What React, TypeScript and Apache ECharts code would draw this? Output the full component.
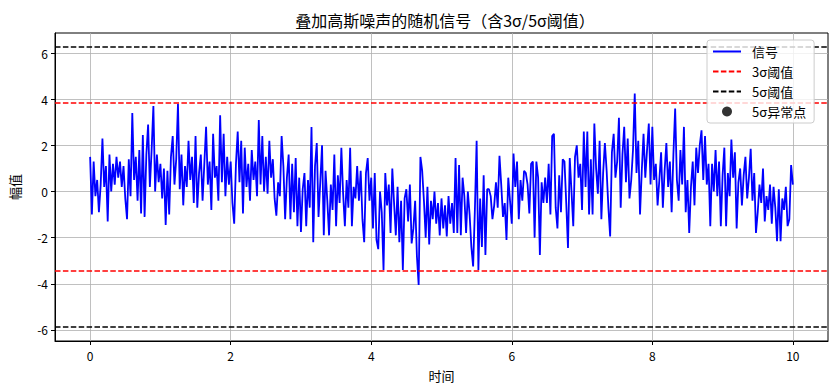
import React, { useEffect, useRef } from "react";
import * as echarts from "echarts";

const title = "叠加高斯噪声的随机信号（含3σ/5σ阈值）";
const xName = "时间";
const yName = "幅值";
const legendNames = ["信号", "3σ阈值", "5σ阈值", "5σ异常点"];

const timeStep = 0.025;
// signal values, one every 0.025 time units from 0 to 10
const signal = [
  1.5, -1.0, 1.3, -0.2, 0.5, -0.9, 0.3, 2.3, 0.2, 1.1, -1.3, 1.6, 0.0, 1.2, 0.3, 1.5, 0.6, 1.3, 0.2, 1.1,
  -0.3, -1.2, 1.4, -0.2, 3.4, 0.5, 1.5, -0.4, 1.8, -0.95, 2.45, -1.1, 1.6, 2.9, 0.2, 1.8, 3.7, 0.0, 1.6, 0.4,
  1.2, -0.3, 1.0, -1.45, 0.9, -1.0, 1.5, 2.4, 0.3, 1.4, 3.8, 0.1, 1.6, -0.6, 1.1, 0.2, 2.2, 0.5, 1.5, -0.5,
  2.4, -0.7, 0.8, 1.6, -0.4, 1.2, 2.8, 0.3, 1.3, -0.8, 2.5, 0.6, 1.1, -0.4, 3.3, 0.4, 2.5, -0.2, 1.5, 0.3,
  1.3, -0.5, -1.4, 1.2, 2.6, 0.4, 2.2, -0.95, 1.9, 0.2, 1.2, -0.4, 1.8, 0.5, 1.3, -0.2, 3.1, 0.3, 2.4, 0.0,
  1.5, -0.1, 2.2, 0.6, 1.4, -0.3, -1.05, 0.4, -0.2, 2.4, 1.1, -1.2, 0.6, 1.6, -1.2, 1.2, -0.9, 1.45, -1.5, 0.6,
  -1.75, 0.1, 0.8, -1.5, 0.5, -0.7, 2.8, -2.2, 1.1, 2.1, -1.1, 0.4, 2.0, -1.9, 0.9, -0.4, -1.9, 0.3, -0.8, 1.6,
  -1.5, 0.7, -0.5, 1.9, -0.1, -1.5, 0.5, -0.7, 1.9, -1.5, 0.2, -0.3, 1.1, -0.4, 0.9, -1.2, -2.2, 0.8, 1.45, -0.4,
  0.6, -1.6, 0.8, -2.1, -2.5, 0.0, -0.9, -3.4, 0.8, -0.6, 0.3, -1.8, 1.0, -0.5, -1.9, 0.2, -2.2, -0.4, -3.4, -0.3,
  0.1, -1.3, 0.3, -2.25, -1.6, -0.4, -2.8, -4.05, 1.5, 0.9, -0.4, -2.0, 0.2, -2.3, -0.4, -1.2, 0.0, -1.4, -0.5, -1.9,
  -0.3, -1.6, -0.6, -1.95, -0.2, -1.4, -0.5, -1.8, 1.45, -1.8, 1.15, -1.9, 0.6, -0.2, -1.8, 0.0, -1.0, -2.4, -3.25, -0.8,
  2.2, -3.4, -0.3, -2.4, 0.7, -2.75, 0.1, 0.1, -0.2, -1.2, -0.6, 0.4, -0.7, 1.55, 0.3, -1.1, -0.5, -2.1, 0.6, -0.4,
  -1.4, 1.65, 0.2, 1.3, -1.2, 0.5, -0.4, 0.9, 0.8, 0.3, -0.95, 1.2, 1.3, -2.0, 1.3, 0.6, -2.75, 0.4, -0.5, 0.6,
  -0.5, 1.2, -1.0, 2.4, 2.5, -0.7, -1.6, 0.7, -0.9, 1.4, 1.3, -0.5, -2.45, 1.45, 0.0, -1.5, 1.5, 2.0, 0.6, 1.2,
  -0.8, 2.6, 0.2, 2.6, -1.0, 1.4, -1.0, 2.95, 1.0, -0.1, 2.2, -1.2, 0.8, 2.1, 0.9, -0.7, -1.95, 1.7, 2.5, 0.6,
  1.3, 3.2, -0.7, 1.6, 2.8, 0.4, 2.3, -0.3, 0.5, 1.8, 4.25, 0.8, 2.2, -1.0, 0.9, 2.5, 0.6, 1.8, 2.95, 0.3,
  2.8, 0.5, 1.2, -0.6, 0.5, 1.7, -0.7, 0.9, 2.1, 0.2, 1.3, -0.9, 1.6, 3.6, 0.5, -0.4, 1.8, 0.3, 2.8, -0.9,
  0.5, -1.8, 0.2, 1.3, -0.6, 1.9, 0.8, 2.0, 2.65, 0.5, 2.4, 0.3, 1.2, -1.5, 1.2, 0.0, 1.8, -0.2, 1.3, -1.5,
  0.7, 1.9, -1.5, 0.8, -0.2, 2.25, 0.6, 1.7, -1.6, 0.4, 1.0, -0.6, 0.7, 1.5, -0.3, 0.6, 1.85, -0.4, 0.8, -1.8,
  -0.9, 0.3, -0.5, 1.0, -1.3, -0.2, -0.8, 0.3, -1.4, 0.2, -0.7, -2.15, 0.1, -2.15, -0.3, -0.8, 0.2, -1.5, -1.2, 1.15,
  0.3,
];
const time = signal.map((_, i) => +(i * timeStep).toFixed(3));

// threshold levels
const sigma3Levels = [3.83, -3.44];
const sigma5Levels = [6.26, -5.87];
const anomalies: number[][] = [];

const xTicks = [0, 2, 4, 6, 8, 10];
const yTicks = [-6, -4, -2, 0, 2, 4, 6];
const xRange = [-0.5, 10.5];
const yRange = [-6.48, 6.87];

export default function App() {
  const ref = useRef<HTMLDivElement>(null);
  useEffect(() => {
    document.body.style.margin = "0";
    const chart = echarts.init(ref.current!, null, { renderer: "svg" });
    const font = "'Noto Sans CJK SC', 'Noto Sans', sans-serif";
    const dash = [5.5, 2.4];
    const gridLine = { show: true, lineStyle: { color: "#b0b0b0", width: 0.8 } };
    const hiddenSymbol = { opacity: 0 };
    chart.setOption({
      animation: false,
      textStyle: { fontFamily: font },
      title: {
        text: title,
        left: 440,
        textAlign: "center",
        top: 7,
        textStyle: { fontSize: 16, fontWeight: "normal", color: "#000", fontFamily: font },
      },
      grid: {
        left: 52,
        right: 8,
        top: 33,
        bottom: 50,
        show: true,
        borderColor: "#000",
        borderWidth: 1,
        backgroundColor: "transparent",
      },
      legend: {
        z: 20,
        data: [
          { name: legendNames[0], itemStyle: hiddenSymbol },
          { name: legendNames[1], itemStyle: hiddenSymbol },
          { name: legendNames[2], itemStyle: hiddenSymbol },
          { name: legendNames[3], icon: "circle" },
        ],
        orient: "vertical",
        left: 707,
        top: 40,
        itemWidth: 28,
        itemHeight: 10,
        itemGap: 7,
        padding: [5, 8, 5, 5],
        backgroundColor: "rgba(255,255,255,0.8)",
        borderColor: "#cccccc",
        borderWidth: 1,
        borderRadius: 3,
        textStyle: { fontSize: 13, color: "#000", fontFamily: font, padding: [0, 0, 0, 6] },
      },
      xAxis: {
        type: "value",
        min: xRange[0],
        max: xRange[1],
        splitNumber: 5,
        name: xName,
        nameLocation: "middle",
        nameGap: 28,
        nameTextStyle: { fontSize: 13, color: "#000" },
        axisLine: { show: true, onZero: false, lineStyle: { color: "#000", width: 1 } },
        axisTick: { show: true, length: 4, lineStyle: { color: "#000" }, customValues: xTicks },
        axisLabel: { color: "#000", fontSize: 12, margin: 8, customValues: xTicks },
        splitLine: gridLine,
      },
      yAxis: {
        type: "value",
        min: yRange[0],
        max: yRange[1],
        splitNumber: 6,
        name: yName,
        nameLocation: "middle",
        nameGap: 34,
        nameRotate: 90,
        nameTextStyle: { fontSize: 13, color: "#000" },
        axisLine: { show: true, onZero: false, lineStyle: { color: "#000", width: 1 } },
        axisTick: { show: true, length: 4, lineStyle: { color: "#000" }, customValues: yTicks },
        axisLabel: { color: "#000", fontSize: 12, margin: 7, customValues: yTicks },
        splitLine: gridLine,
      },
      series: [
        {
          name: legendNames[0],
          type: "line",
          data: time.map((t, i) => [t, signal[i]]),
          symbol: "none",
          showSymbol: false,
          color: "#0000ff",
          lineStyle: { color: "#0000ff", width: 1.8 },
          z: 2,
        },
        {
          name: legendNames[1],
          type: "line",
          data: [],
          symbol: "none",
          color: "#ff0000",
          lineStyle: { color: "#ff0000", width: 1.5, type: dash },
          markLine: {
            silent: true,
            symbol: ["none", "none"],
            label: { show: false },
            lineStyle: { color: "#ff0000", width: 1.5, type: dash },
            data: sigma3Levels.map((v) => ({ yAxis: v })),
          },
          z: 3,
        },
        {
          name: legendNames[2],
          type: "line",
          data: [],
          symbol: "none",
          color: "#000000",
          lineStyle: { color: "#000000", width: 1.5, type: dash },
          markLine: {
            silent: true,
            symbol: ["none", "none"],
            label: { show: false },
            lineStyle: { color: "#000000", width: 1.5, type: dash },
            data: sigma5Levels.map((v) => ({ yAxis: v })),
          },
          z: 3,
        },
        {
          name: legendNames[3],
          type: "scatter",
          data: anomalies,
          symbolSize: 8,
          color: "#000000",
          itemStyle: { color: "#000000" },
          z: 4,
        },
      ],
    });
    return () => chart.dispose();
  }, []);
  return <div ref={ref} style={{ width: 836, height: 391 }} />;
}
